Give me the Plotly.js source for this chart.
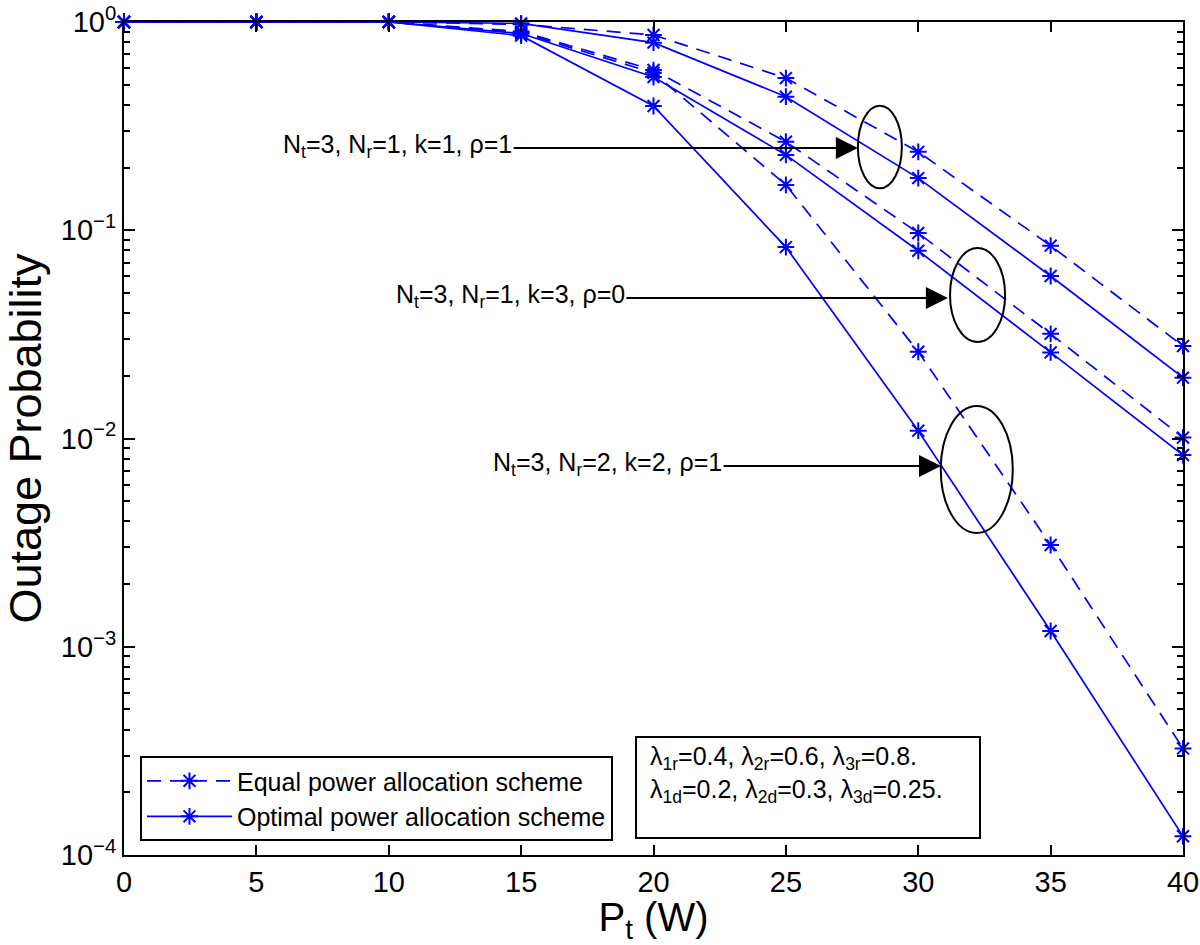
<!DOCTYPE html>
<html>
<head>
<meta charset="utf-8">
<script src="https://cdn.plot.ly/plotly-3.0.1.min.js"></script>
<style>
  html, body { margin: 0; padding: 0; background: #fff; }
  #chart { width: 1200px; height: 945px; }
</style>
</head>
<body>
<div id="chart"></div>
<script>
// transmit power P_t (W)
const powerW = [0, 5, 10, 15, 20, 25, 30, 35, 40];

// outage probability
const equalK1 = [1, 1, 1, 0.975, 0.866, 0.538, 0.238, 0.0843, 0.0278];
const optimalK1 = [1, 1, 1, 0.985, 0.796, 0.438, 0.178, 0.0603, 0.0196];
const equalK3 = [1, 1, 1, 0.90, 0.588, 0.266, 0.097, 0.0318, 0.0101];
const optimalK3 = [1, 1, 1, 0.88, 0.544, 0.230, 0.0797, 0.0259, 0.00833];
const equalK2 = [1, 1, 1, 0.89, 0.57, 0.165, 0.0261, 0.00308, 0.000325];
const optimalK2 = [1, 1, 1, 0.86, 0.395, 0.083, 0.0109, 0.00119, 0.000123];

const xTicks = [0, 5, 10, 15, 20, 25, 30, 35, 40];
const yTickVals = [1, 0.1, 0.01, 0.001, 0.0001];
const yTickText = ['10<sup>0</sup>', '10<sup>\u22121</sup>', '10<sup>\u22122</sup>', '10<sup>\u22123</sup>', '10<sup>\u22124</sup>'];

const FONT = 'Liberation Sans, Arial, Helvetica, sans-serif';
const BLUE = '#0000ff';

function curve(y, dashed, name, showlegend) {
    return {
        type: 'scatter',
        mode: 'lines+markers',
        x: powerW,
        y: y,
        name: name,
        showlegend: showlegend,
        legendgroup: dashed ? 'equal' : 'optimal',
        cliponaxis: false,
        line: { color: BLUE, width: 1.7, dash: dashed ? '14px,9px' : 'solid' },
        marker: { symbol: 'asterisk-open', size: 14, line: { color: BLUE, width: 2 } },
    };
}

const traces = [
    curve(equalK1, true, 'Equal power allocation scheme', true),
    curve(optimalK1, false, 'Optimal power allocation scheme', true),
    curve(equalK3, true, '', false),
    curve(optimalK3, false, '', false),
    curve(equalK2, true, '', false),
    curve(optimalK2, false, '', false),
];

// minor ticks 2..9 in each decade
const minorVals = [];
for (let d = -4; d < 0; d += 1) {
    for (let m = 2; m <= 9; m += 1) minorVals.push(m * Math.pow(10, d));
}

function arrow(textHtml, tailX, tipX, yLog) {
    return [
        {
            x: tipX, y: yLog, ax: tailX, ay: yLog,
            xref: 'x', yref: 'y', axref: 'x', ayref: 'y',
            text: '', showarrow: true,
            arrowhead: 2, arrowsize: 2.2, arrowwidth: 2, arrowcolor: '#000',
        },
        {
            x: tailX, y: yLog, xref: 'x', yref: 'y',
            text: textHtml, showarrow: false,
            xanchor: 'right', yanchor: 'middle', xshift: 2, yshift: 2,
            font: { family: FONT, size: 25, color: '#000' },
        },
    ];
}

const annotations = [
    ...arrow('N<sub>t</sub>=3, N<sub>r</sub>=1, k=1, \u03c1=1', 14.66, 27.72, -0.605),
    ...arrow('N<sub>t</sub>=3, N<sub>r</sub>=1, k=3, \u03c1=0', 18.92, 31.12, -1.325),
    ...arrow('N<sub>t</sub>=3, N<sub>r</sub>=2, k=2, \u03c1=1', 22.59, 30.86, -2.132),
    {
        x: 0.495, y: 0.097, xref: 'paper', yref: 'paper',
        xanchor: 'left', yanchor: 'middle', align: 'left', showarrow: false,
        text: '\u03bb<sub>1r</sub>=0.4, \u03bb<sub>2r</sub>=0.6, \u03bb<sub>3r</sub>=0.8.<br>' +
              '\u03bb<sub>1d</sub>=0.2, \u03bb<sub>2d</sub>=0.3, \u03bb<sub>3d</sub>=0.25.',
        font: { family: FONT, size: 25, color: '#000' },
    },
];

// ellipses: x in data units, y in paper units
const shapes = [
    { type: 'circle', xref: 'x', yref: 'paper', x0: 27.72, x1: 29.38, y0: 0.8004, y1: 0.8995, line: { color: '#000', width: 2 } },
    { type: 'circle', xref: 'x', yref: 'paper', x0: 31.20, x1: 33.28, y0: 0.6158, y1: 0.7287, line: { color: '#000', width: 2 } },
    { type: 'circle', xref: 'x', yref: 'paper', x0: 30.85, x1: 33.57, y0: 0.3866, y1: 0.5390, line: { color: '#000', width: 2 } },
    { type: 'rect', xref: 'paper', yref: 'paper', x0: 0.4835, x1: 0.8083, y0: 0.0204, y1: 0.1417,
      line: { color: '#000', width: 2 }, fillcolor: '#fff', layer: 'above' },
];

const layout = {
    width: 1200,
    height: 945,
    margin: { l: 124, r: 17, t: 22, b: 90 },
    paper_bgcolor: '#fff',
    plot_bgcolor: '#fff',
    font: { family: FONT, color: '#000' },
    showlegend: true,
    legend: {
        x: 0.0151, y: 0.1188, xanchor: 'left', yanchor: 'top',
        bgcolor: '#fff', bordercolor: '#000', borderwidth: 2,
        font: { family: FONT, size: 25, color: '#000' },
        itemwidth: 85,
        tracegroupgap: 0,
    },
    xaxis: {
        range: [0, 40],
        tickmode: 'array',
        tickvals: xTicks,
        ticks: 'inside', ticklen: 10, tickwidth: 2, tickcolor: '#000',
        showline: true, linecolor: '#000', linewidth: 2, mirror: 'ticks',
        showgrid: false, zeroline: false,
        tickfont: { family: FONT, size: 29, color: '#000' },
        title: { text: 'P<sub>t</sub> (W)', font: { family: FONT, size: 40, color: '#000' }, standoff: 12 },
    },
    yaxis: {
        type: 'log',
        range: [-4, 0],
        tickmode: 'array',
        tickvals: yTickVals,
        ticktext: yTickText,
        ticks: 'inside', ticklen: 11, tickwidth: 2, tickcolor: '#000',
        minor: { tickmode: 'array', tickvals: minorVals, ticks: 'inside', ticklen: 6, tickwidth: 2, tickcolor: '#000', showgrid: false },
        showline: true, linecolor: '#000', linewidth: 2, mirror: 'ticks',
        showgrid: false, zeroline: false,
        tickfont: { family: FONT, size: 29, color: '#000' },
        title: { text: 'Outage Probability', font: { family: FONT, size: 45, color: '#000' }, standoff: 16 },
    },
    shapes: shapes,
    annotations: annotations,
};

Plotly.newPlot('chart', traces, layout, { displayModeBar: false, staticPlot: true });
</script>
</body>
</html>
